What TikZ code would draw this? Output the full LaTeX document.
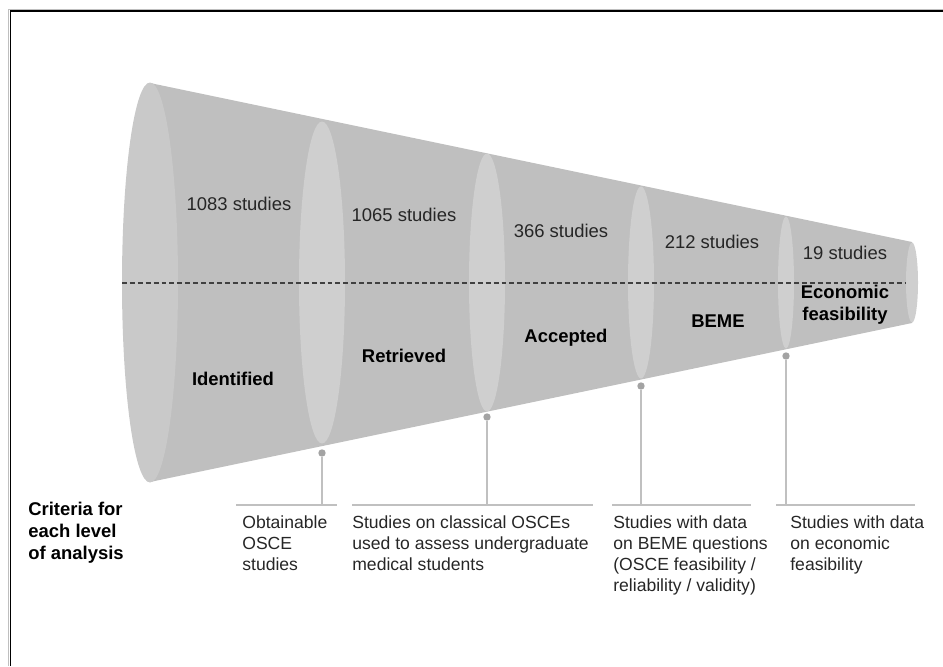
\documentclass[tikz,border=0pt]{standalone}
\usepackage{fontspec}
\setmainfont{Liberation Sans}
\usepackage{tikz}

\definecolor{conebody}{HTML}{BFBFBF}
\definecolor{coneface}{HTML}{CFCFCF}
\definecolor{pingray}{HTML}{C0C0C0}
\definecolor{textgray}{HTML}{262626}

\begin{document}
\begin{tikzpicture}[x=0.02cm, y=-0.02cm,
    every node/.style={font=\fontsize{10.5}{12}\selectfont, inner sep=0pt},
    count/.style={text=textgray},
    level/.style={font=\fontsize{10.5}{12.3}\selectfont\bfseries, align=center},
    crit/.style={anchor=north west, align=left, text=textgray, font=\fontsize{10}{12}\selectfont},
    face/.style={fill=coneface},
    link/.style={draw=pingray, line width=0.6pt},
    dot/.style={circle, fill=pingray!85!black, minimum size=4.2pt}]
    \useasboundingbox (0,0) rectangle (943,666);

    % Frame
    \draw[gray!50, line width=0.6pt] (8.5,666) -- (8.5,9.5) -- (943,9.5);
    \draw[line width=1.1pt] (10.5,666) -- (10.5,11) -- (943,11);

    % Cone body and its two end faces
    \fill[conebody] (150,83) -- (912,242) -- (912,323) -- (150,482) -- cycle;
    \fill[coneface!97!black] (150,282.5) ellipse [x radius=28, y radius=200];
    \fill[face] (912,282.5) ellipse [x radius=6, y radius=40];

    % Cuts between the levels
    \foreach \x/\rx/\ry in {322/23/161, 487/18/129, 641/13/96, 786/8/66}
        \fill[face] (\x,282.5) ellipse [x radius=\rx, y radius=\ry];

    % Split line
    \draw[dashed, dash pattern=on 2.8pt off 1.7pt, black!75, line width=0.7pt] (122,283) -- (905,283);

    % Study counts
    \node[count] (idnum) at (239,204) {1083 studies};
    \node[count] (retnum) at (404,215) {1065 studies};
    \node[count] (accnum) at (561,231) {366 studies};
    \node[count] (bemenum) at (712,242) {212 studies};
    \node[count] (econnum) at (845,253) {19 studies};

    % Levels
    \node[level] (identified) at (233,379) {Identified};
    \node[level] (retrieved) at (404,356) {Retrieved};
    \node[level] (accepted) at (566,338) {Accepted};
    \node[level] (beme) at (718,321) {BEME};
    \node[level] (economic) at (845,305) {Economic\\feasibility};

    % Pins down to the criteria
    \foreach \l/\r in {236/337, 352/593, 612/751, 776/915}
        \draw[link] (\l,505) -- (\r,505);
    \foreach \i/\x/\y in {1/322/453, 2/487/417, 3/641/386, 4/786/356} {
        \coordinate (foot\i) at (\x,505);
        \node[dot] (pin\i) at (\x,\y) {};
        \draw[link] (pin\i) -- (foot\i);
    }

    % Criteria
    \node[crit, font=\fontsize{10.5}{12.5}\selectfont\bfseries, text=black] (crit) at (28,502) {Criteria for\\each level\\of analysis};
    \node[crit] (obtain) at (242,515) {Obtainable\\OSCE\\studies};
    \node[crit] (classic) at (352,515) {Studies on classical OSCEs\\used to assess undergraduate\\medical students};
    \node[crit] (bemeq) at (613,515) {Studies with data\\on BEME questions\\(OSCE feasibility /\\reliability / validity)};
    \node[crit] (econq) at (790,515) {Studies with data\\on economic\\feasibility};
\end{tikzpicture}
\end{document}
